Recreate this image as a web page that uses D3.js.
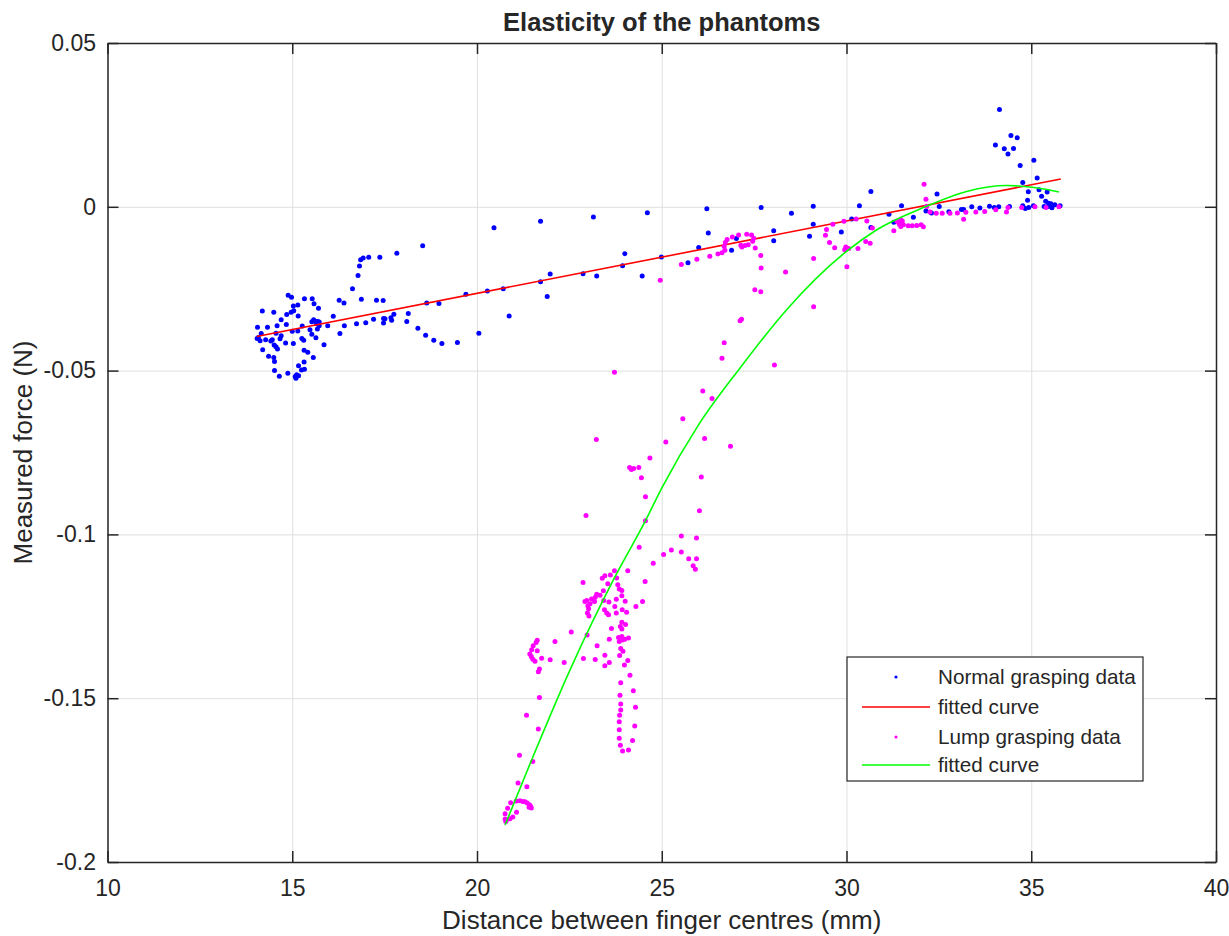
<!DOCTYPE html>
<html>
<head>
<meta charset="utf-8">
<script src="https://cdn.jsdelivr.net/npm/d3@7/dist/d3.min.js"></script>
<style>
  body { margin: 0; background: #fff; }
  text { font-family: "Liberation Sans", Arial, Helvetica, sans-serif; fill: #262626; }
</style>
</head>
<body>
<div id="chart"></div>
<script>
// axis ticks
const xTicks = [10, 15, 20, 25, 30, 35, 40];
const yTicks = [-0.2, -0.15, -0.1, -0.05, 0, 0.05];

// normal grasping data (blue dots)
const normalX = [
  18.53, 17.83, 17.37, 17.07, 16.92, 16.85, 16.82, 16.78, 16.63, 16.87, 17.28, 17.46, 16.27, 16.40,
  14.89, 14.98, 15.33, 15.54, 15.59, 15.71, 15.15, 15.03, 15.04, 14.97, 14.85, 14.50, 14.19, 14.70,
  14.59, 14.84, 14.33, 14.06, 14.16, 15.16, 16.11, 15.58, 15.64, 15.69, 15.73, 15.53, 15.66, 15.96,
  15.73, 15.68, 15.48, 15.27, 15.15, 15.00, 14.56, 14.70, 14.67, 14.46, 14.28, 14.08, 14.13, 14.05,
  14.42, 14.51, 14.56, 14.60, 14.82, 15.03, 15.26, 15.31, 15.53, 15.64, 15.86, 16.29, 16.41, 16.74,
  16.99, 17.20, 17.47, 17.51, 17.67, 17.69, 17.75, 17.47, 18.14, 18.10, 18.40, 18.61, 18.83, 19.05,
  19.47, 20.05, 18.64, 18.97, 19.70, 14.20, 14.36, 14.50, 14.52, 14.52, 14.65, 14.88, 15.08, 15.17,
  15.10, 15.12, 15.25, 15.33, 15.32, 15.17, 15.32, 15.42, 15.57,
  20.46, 21.72, 23.15, 24.61, 26.22, 27.69, 28.51, 29.10, 30.35, 29.10, 26.26, 28.03, 28.03, 29.00,
  29.86, 30.14, 27.02, 26.89, 26.00, 25.71, 24.99, 24.00, 23.94, 24.47, 23.24, 22.87, 21.98, 21.72,
  21.90, 20.71, 20.28, 20.87,
  34.14, 34.03, 34.27, 34.37, 34.45, 34.62, 34.52, 34.70, 35.07, 34.77, 35.16, 34.92, 35.21, 35.28,
  35.43, 35.39, 35.47, 34.90, 34.77, 34.84, 34.93, 35.06, 35.35, 35.46, 34.41, 34.12, 34.00, 33.87,
  33.61, 33.39, 33.17, 33.11, 32.77, 32.51, 32.45, 32.30, 32.15, 31.81, 31.49, 31.28, 31.15, 30.66,
  30.66, 35.53, 35.64, 35.78, 35.56
];
const normalY = [
  -0.0119, -0.0142, -0.0154, -0.0154, -0.0156, -0.0162, -0.0181, -0.0210, -0.0250, -0.0282, -0.0285, -0.0286, -0.0285, -0.0294,
  -0.0270, -0.0276, -0.0281, -0.0281, -0.0296, -0.0310, -0.0300, -0.0303, -0.0317, -0.0322, -0.0329, -0.0322, -0.0318, -0.0345,
  -0.0363, -0.0359, -0.0368, -0.0368, -0.0387, -0.0333, -0.0334, -0.0345, -0.0350, -0.0350, -0.0352, -0.0351, -0.0357, -0.0363,
  -0.0363, -0.0373, -0.0375, -0.0364, -0.0379, -0.0380, -0.0386, -0.0394, -0.0403, -0.0406, -0.0406, -0.0399, -0.0409, -0.0402,
  -0.0410, -0.0422, -0.0427, -0.0434, -0.0416, -0.0417, -0.0402, -0.0407, -0.0389, -0.0400, -0.0421, -0.0387, -0.0363, -0.0357,
  -0.0354, -0.0343, -0.0341, -0.0342, -0.0339, -0.0346, -0.0328, -0.0355, -0.0326, -0.0350, -0.0371, -0.0392, -0.0407, -0.0417,
  -0.0414, -0.0386, -0.0294, -0.0295, -0.0267, -0.0436, -0.0456, -0.0460, -0.0472, -0.0500, -0.0517, -0.0508, -0.0518, -0.0516,
  -0.0523, -0.0513, -0.0498, -0.0496, -0.0474, -0.0485, -0.0438, -0.0444, -0.0460,
  -0.0064, -0.0044, -0.0031, -0.0018, -0.0006, -0.0002, -0.0020, 0.0002, 0.0003, -0.0053, -0.0080, -0.0073, -0.0104, -0.0090,
  -0.0077, -0.0037, -0.0097, -0.0133, -0.0124, -0.0171, -0.0153, -0.0143, -0.0180, -0.0211, -0.0211, -0.0204, -0.0205, -0.0229,
  -0.0274, -0.0250, -0.0257, -0.0333,
  0.0297, 0.0189, 0.0177, 0.0161, 0.0218, 0.0211, 0.0178, 0.0126, 0.0142, 0.0074, 0.0088, 0.0046, 0.0052, 0.0032,
  0.0045, 0.0017, 0.0011, 0.0020, 0.0003, -0.0005, -0.0002, 0.0003, 0.0001, 0.0001, 0.0001, 0.0000, -0.0002, 0.0002,
  -0.0004, 0.0000, -0.0008, -0.0008, -0.0015, 0.0001, 0.0039, -0.0019, -0.0013, -0.0032, 0.0003, -0.0047, -0.0023, 0.0047,
  -0.0063, 0.0009, 0.0006, 0.0003, -0.0003
];

// lump grasping data (magenta dots)
const lumpX = [
  24.96, 25.53, 25.95, 26.30, 26.52, 26.63, 26.71, 26.69, 26.72, 26.77, 26.91, 27.08, 27.30, 27.43,
  27.49, 27.46, 27.34, 27.25, 27.17, 27.14, 27.53, 27.68, 27.69, 27.52, 27.68, 28.35, 29.11, 29.11,
  29.46, 29.43, 29.54, 29.68, 29.63, 29.93, 30.26, 29.98, 29.95, 30.01, 30.06,
  27.16, 27.12, 28.05, 30.31, 30.52, 30.64, 26.69, 26.63,
  23.72, 26.11, 26.36, 25.57, 23.23, 25.11, 26.16, 26.86, 24.68, 24.13, 24.18, 24.24, 24.38, 24.45,
  26.07, 24.56, 22.95, 26.02, 24.56, 25.53, 25.94, 24.39, 25.26, 25.05, 25.53, 25.73, 25.94, 24.77,
  25.85, 25.91,
  23.72, 24.08, 23.46, 23.39, 23.61, 23.78, 22.87, 24.55, 23.54, 23.81, 23.85, 23.92, 23.42, 23.92,
  23.24, 23.33, 23.20, 23.10, 23.18, 22.97, 22.92, 23.06, 23.00, 23.43, 23.57, 23.77, 24.01, 24.48,
  24.30, 23.73, 23.45, 23.51, 23.56, 23.02, 22.99, 23.03, 23.77, 23.93, 24.05, 23.92, 24.02, 23.88,
  23.92, 23.64, 22.55, 22.98, 23.83, 23.92, 23.94, 24.00, 24.10, 23.85, 23.58, 22.11, 21.63, 21.60,
  21.52, 21.48, 21.63, 21.43, 21.47, 21.51, 21.57, 21.75, 21.98, 22.36, 22.88, 23.25, 23.20, 23.46,
  23.58, 23.46, 23.89, 23.95, 23.86, 24.08, 23.99, 24.14, 21.69, 21.66, 23.89, 24.23, 21.69, 23.87,
  23.89, 24.29, 23.89, 23.86, 23.85, 24.27, 23.85, 21.34, 21.66, 23.85, 24.21, 23.88, 23.94, 24.10,
  21.15,
  21.51, 21.11, 21.35, 21.16, 21.24, 21.30, 21.36, 21.42, 21.45, 21.41, 21.47, 21.06, 20.91, 20.83,
  21.07, 20.97, 20.89, 20.76, 20.76, 20.80, 20.78,
  32.10, 32.15, 32.17, 32.26, 32.43, 32.59, 32.80, 33.00, 33.23, 33.17, 33.50, 33.74, 34.04, 34.33,
  34.37, 34.74, 35.10, 35.40, 31.28, 31.47, 31.40, 31.51, 31.54, 31.47, 31.67, 31.78, 31.90, 32.02,
  32.08, 30.55, 30.70, 31.36, 31.43, 35.75
];
const lumpY = [
  -0.0224, -0.0176, -0.0160, -0.0151, -0.0144, -0.0140, -0.0133, -0.0121, -0.0109, -0.0100, -0.0092, -0.0086, -0.0084, -0.0086,
  -0.0096, -0.0105, -0.0116, -0.0118, -0.0123, -0.0117, -0.0126, -0.0149, -0.0187, -0.0253, -0.0259, -0.0199, -0.0158, -0.0305,
  -0.0069, -0.0087, -0.0109, -0.0125, -0.0053, -0.0044, -0.0037, -0.0123, -0.0131, -0.0183, -0.0127,
  -0.0343, -0.0348, -0.0483, -0.0127, -0.0106, -0.0111, -0.0415, -0.0462,
  -0.0505, -0.0562, -0.0585, -0.0647, -0.0710, -0.0718, -0.0707, -0.0731, -0.0767, -0.0796, -0.0802, -0.0799, -0.0796, -0.0827,
  -0.0825, -0.0885, -0.0942, -0.0928, -0.0958, -0.1005, -0.1011, -0.1039, -0.1048, -0.1061, -0.1054, -0.1074, -0.1074, -0.1088,
  -0.1096, -0.1106,
  -0.1111, -0.1111, -0.1126, -0.1134, -0.1124, -0.1133, -0.1147, -0.1144, -0.1151, -0.1154, -0.1167, -0.1171, -0.1172, -0.1187,
  -0.1183, -0.1186, -0.1192, -0.1197, -0.1205, -0.1202, -0.1205, -0.1212, -0.1218, -0.1202, -0.1206, -0.1198, -0.1204, -0.1205,
  -0.1220, -0.1220, -0.1230, -0.1240, -0.1245, -0.1227, -0.1240, -0.1249, -0.1240, -0.1230, -0.1238, -0.1268, -0.1275, -0.1281,
  -0.1289, -0.1287, -0.1298, -0.1307, -0.1315, -0.1312, -0.1322, -0.1320, -0.1316, -0.1327, -0.1320, -0.1327, -0.1323, -0.1330,
  -0.1340, -0.1352, -0.1355, -0.1365, -0.1373, -0.1381, -0.1387, -0.1378, -0.1383, -0.1391, -0.1379, -0.1340, -0.1382, -0.1369,
  -0.1391, -0.1401, -0.1348, -0.1357, -0.1370, -0.1385, -0.1399, -0.1430, -0.1411, -0.1419, -0.1453, -0.1477, -0.1498, -0.1491,
  -0.1518, -0.1528, -0.1536, -0.1552, -0.1572, -0.1585, -0.1596, -0.1552, -0.1594, -0.1622, -0.1629, -0.1644, -0.1661, -0.1658,
  -0.1674,
  -0.1693, -0.1759, -0.1770, -0.1813, -0.1815, -0.1816, -0.1820, -0.1825, -0.1830, -0.1833, -0.1835, -0.1814, -0.1819, -0.1836,
  -0.1848, -0.1863, -0.1868, -0.1853, -0.1869, -0.1871, -0.1876,
  0.0069, 0.0023, 0.0001, -0.0016, -0.0020, -0.0020, -0.0020, -0.0019, -0.0017, -0.0038, -0.0016, -0.0014, -0.0009, -0.0016,
  -0.0002, -0.0002, 0.0000, -0.0002, -0.0073, -0.0040, -0.0046, -0.0043, -0.0055, -0.0060, -0.0058, -0.0058, -0.0057, -0.0055,
  -0.0061, -0.0043, -0.0065, -0.0043, -0.0053, 0.0000
];

// fitted curves
const fitNormalX = [14.04, 35.80];
const fitNormalY = [-0.0396, 0.0085];
const fitLumpX = [20.76, 21.48, 22.50, 23.69, 24.56, 25.00, 26.00, 27.12, 28.38, 30.00, 30.82, 32.15, 33.25, 34.33, 35.47, 35.75];
const fitLumpY = [-0.1887, -0.1688, -0.1418, -0.1139, -0.0958, -0.0859, -0.0665, -0.0492, -0.0314, -0.0136, -0.0070, 0.0001, 0.0047, 0.0065, 0.0052, 0.0045];

const legendLabels = ["Normal grasping data", "fitted curve", "Lump grasping data", "fitted curve"];

// layout
const W = 1229, H = 936;
const margin = { top: 43, right: 13, bottom: 74, left: 107.5 };
const width = W - margin.left - margin.right;
const height = H - margin.top - margin.bottom;
const axisColor = "#262626";

const svg = d3.select("#chart").append("svg")
  .attr("width", W)
  .attr("height", H);

const g = svg.append("g")
  .attr("transform", `translate(${margin.left}, ${margin.top})`);

const x = d3.scaleLinear().domain([10, 40]).range([0, width]);
const y = d3.scaleLinear().domain([-0.2, 0.05]).range([height, 0]);

// grid
g.append("g")
  .attr("transform", `translate(0, ${height})`)
  .call(d3.axisBottom(x).tickValues(xTicks).tickSize(-height).tickFormat(""))
  .call(s => s.select(".domain").remove())
  .call(s => s.selectAll("line").attr("stroke", "#dfdfdf").attr("stroke-width", 1));

g.append("g")
  .call(d3.axisLeft(y).tickValues(yTicks).tickSize(-width).tickFormat(""))
  .call(s => s.select(".domain").remove())
  .call(s => s.selectAll("line").attr("stroke", "#dfdfdf").attr("stroke-width", 1));

// data
const normal = normalX.map((v, i) => [v, normalY[i]]);
const lump = lumpX.map((v, i) => [v, lumpY[i]]);
const fitNormal = fitNormalX.map((v, i) => [v, fitNormalY[i]]);
const fitLump = fitLumpX.map((v, i) => [v, fitLumpY[i]]);

g.append("g").selectAll("circle")
  .data(normal)
  .join("circle")
  .attr("cx", d => x(d[0]))
  .attr("cy", d => y(d[1]))
  .attr("r", 2.5)
  .attr("fill", "#0000ff");

const line = d3.line()
  .x(d => x(d[0]))
  .y(d => y(d[1]));

g.append("path")
  .datum(fitNormal)
  .attr("d", line)
  .attr("fill", "none")
  .attr("stroke", "#ff0000")
  .attr("stroke-width", 1.6);

g.append("g").selectAll("circle")
  .data(lump)
  .join("circle")
  .attr("cx", d => x(d[0]))
  .attr("cy", d => y(d[1]))
  .attr("r", 2.5)
  .attr("fill", "#ff00ff");

g.append("path")
  .datum(fitLump)
  .attr("d", line.curve(d3.curveMonotoneX))
  .attr("fill", "none")
  .attr("stroke", "#00ff00")
  .attr("stroke-width", 1.6);

// axes (ticks inside, box on)
const styleAxis = s => {
  s.select(".domain").attr("stroke", axisColor).attr("stroke-width", 1.5);
  s.selectAll(".tick line").attr("stroke", axisColor).attr("stroke-width", 1.5);
  s.selectAll(".tick text").style("font-size", "23px").attr("fill", axisColor);
};

g.append("g")
  .attr("transform", `translate(0, ${height})`)
  .call(d3.axisBottom(x).tickValues(xTicks).tickSizeInner(-11).tickSizeOuter(0).tickPadding(18))
  .call(styleAxis);

g.append("g")
  .call(d3.axisTop(x).tickValues(xTicks).tickSizeInner(-11).tickSizeOuter(0).tickFormat(""))
  .call(styleAxis);

// plain hyphen minus, as in the original figure
g.append("g")
  .call(d3.axisLeft(y).tickValues(yTicks).tickSizeInner(-11).tickSizeOuter(0).tickPadding(11.5)
    .tickFormat(d => String(+d.toFixed(2))))
  .call(styleAxis);

g.append("g")
  .attr("transform", `translate(${width}, 0)`)
  .call(d3.axisRight(y).tickValues(yTicks).tickSizeInner(-11).tickSizeOuter(0).tickFormat(""))
  .call(styleAxis);

// title and labels
svg.append("text")
  .attr("x", margin.left + width / 2)
  .attr("y", 31)
  .attr("text-anchor", "middle")
  .style("font-size", "25.5px")
  .style("font-weight", "bold")
  .attr("fill", "#000")
  .text("Elasticity of the phantoms");

svg.append("text")
  .attr("x", margin.left + width / 2)
  .attr("y", 929)
  .attr("text-anchor", "middle")
  .style("font-size", "26px")
  .text("Distance between finger centres (mm)");

svg.append("text")
  .attr("transform", `translate(32, ${margin.top + height / 2}) rotate(-90)`)
  .attr("text-anchor", "middle")
  .style("font-size", "26px")
  .text("Measured force (N)");

// legend
const legend = svg.append("g").attr("transform", "translate(847, 657)");
legend.append("rect")
  .attr("width", 296)
  .attr("height", 124)
  .attr("fill", "#fff")
  .attr("stroke", axisColor)
  .attr("stroke-width", 1.2);

const legendColors = ["#0000ff", "#ff0000", "#ff00ff", "#00ff00"];
const legendTypes = ["dot", "line", "dot", "line"];
const rowY = [20, 50, 80, 108];

legendLabels.forEach((lab, i) => {
  const row = legend.append("g").attr("transform", `translate(0, ${rowY[i]})`);
  if (legendTypes[i] === "dot") {
    row.append("circle").attr("cx", 49).attr("cy", 0).attr("r", 1.6).attr("fill", legendColors[i]);
  } else {
    row.append("line").attr("x1", 15).attr("x2", 83).attr("y1", 0).attr("y2", 0)
      .attr("stroke", legendColors[i]).attr("stroke-width", 1.6);
  }
  row.append("text")
    .attr("x", 91)
    .attr("y", 0)
    .attr("dy", "0.35em")
    .style("font-size", "20.7px")
    .attr("fill", "#000")
    .text(lab);
});
</script>
</body>
</html>
